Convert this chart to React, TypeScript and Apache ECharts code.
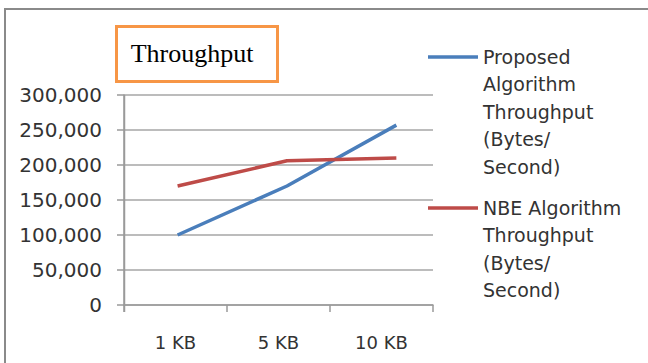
import React, { useEffect, useRef } from "react";
import * as echarts from "echarts";

const categories = ["1 KB", "5 KB", "10 KB"];
const proposedValues = [100000, 170000, 257000];
const nbeValues = [170000, 206000, 210000];
const seriesNames = [
  "Proposed\nAlgorithm\nThroughput\n(Bytes/\nSecond)",
  "NBE Algorithm\nThroughput\n(Bytes/\nSecond)",
];
const seriesColors = ["#4a7ebb", "#be4b48"];
const titleText = "Throughput";

export default function App() {
  const ref = useRef<HTMLDivElement>(null);
  useEffect(() => {
    if (!ref.current) return;
    const chart = echarts.init(ref.current, null, { renderer: "svg" });
    const legendY = [57, 208];
    const legendGraphics: any[] = [];
    seriesNames.forEach((name, i) => {
      legendGraphics.push({
        type: "line",
        shape: { x1: 428, y1: legendY[i], x2: 478, y2: legendY[i] },
        style: { stroke: seriesColors[i], lineWidth: 3.5 },
      });
      legendGraphics.push({
        type: "text",
        x: 483,
        y: legendY[i] - 14,
        style: {
          text: name,
          fill: "#333",
          font: "19px 'DejaVu Sans'",
          lineHeight: 27.5,
          verticalAlign: "top",
          align: "left",
        },
      });
    });
    chart.setOption({
      animation: false,
      backgroundColor: "#fff",
      grid: { left: 124, top: 95, width: 309, height: 210, containLabel: false },
      xAxis: [
        {
          type: "category",
          data: categories,
          boundaryGap: true,
          axisLine: { lineStyle: { color: "#9a9a9a", width: 1.5 } },
          axisTick: { show: true, length: 7, lineStyle: { color: "#9a9a9a", width: 1.5 } },
          axisLabel: {
            margin: 28,
            color: "#333",
            fontFamily: "DejaVu Sans",
            fontSize: 18,
          },
          splitLine: { show: false },
        },
        {
          type: "value",
          show: false,
          min: 0.51,
          max: 3.335,
          splitLine: { show: false },
        },
      ],
      yAxis: {
        type: "value",
        position: "left",
        min: 0,
        max: 300000,
        interval: 50000,
        axisLine: { show: true, onZero: false, lineStyle: { color: "#9a9a9a", width: 1.5 } },
        axisTick: { show: true, length: 7, lineStyle: { color: "#9a9a9a", width: 1.5 } },
        axisLabel: {
          margin: 22,
          color: "#333",
          fontFamily: "DejaVu Sans",
          fontSize: 20,
          formatter: (v: number) => v.toLocaleString("en-US"),
        },
        splitLine: { show: true, lineStyle: { color: "#a6a6a6", width: 1.5 } },
      },
      series: [
        {
          type: "line",
          name: seriesNames[0],
          xAxisIndex: 1,
          data: proposedValues.map((v, i) => [i + 1, v]),
          showSymbol: false,
          lineStyle: { color: seriesColors[0], width: 3.5 },
          itemStyle: { color: seriesColors[0] },
        },
        {
          type: "line",
          name: seriesNames[1],
          xAxisIndex: 1,
          data: nbeValues.map((v, i) => [i + 1, v]),
          showSymbol: false,
          lineStyle: { color: seriesColors[1], width: 3.5 },
          itemStyle: { color: seriesColors[1] },
        },
      ],
      graphic: [
        {
          type: "line",
          shape: { x1: 5, y1: 9, x2: 5, y2: 363 },
          style: { stroke: "#8a8a8a", lineWidth: 2 },
        },
        {
          type: "line",
          shape: { x1: 4, y1: 9, x2: 648, y2: 9 },
          style: { stroke: "#8a8a8a", lineWidth: 2 },
        },
        {
          type: "line",
          z: 10,
          silent: true,
          shape: { x1: 124.5, y1: 95, x2: 124.5, y2: 312 },
          style: { stroke: "#9a9a9a", lineWidth: 1.5 },
        },
        {
          type: "rect",
          shape: { x: 116.5, y: 26.5, width: 161, height: 55 },
          style: { stroke: "#f79646", lineWidth: 3, fill: "#fff" },
        },
        {
          type: "text",
          x: 192,
          y: 53,
          style: {
            text: titleText,
            fill: "#000",
            font: "26px 'Liberation Serif'",
            align: "center",
            verticalAlign: "middle",
          },
        },
        ...legendGraphics,
      ],
    });
    return () => chart.dispose();
  }, []);
  return (
    <div
      ref={ref}
      style={{ position: "fixed", left: 0, top: 0, width: 648, height: 363 }}
    />
  );
}
